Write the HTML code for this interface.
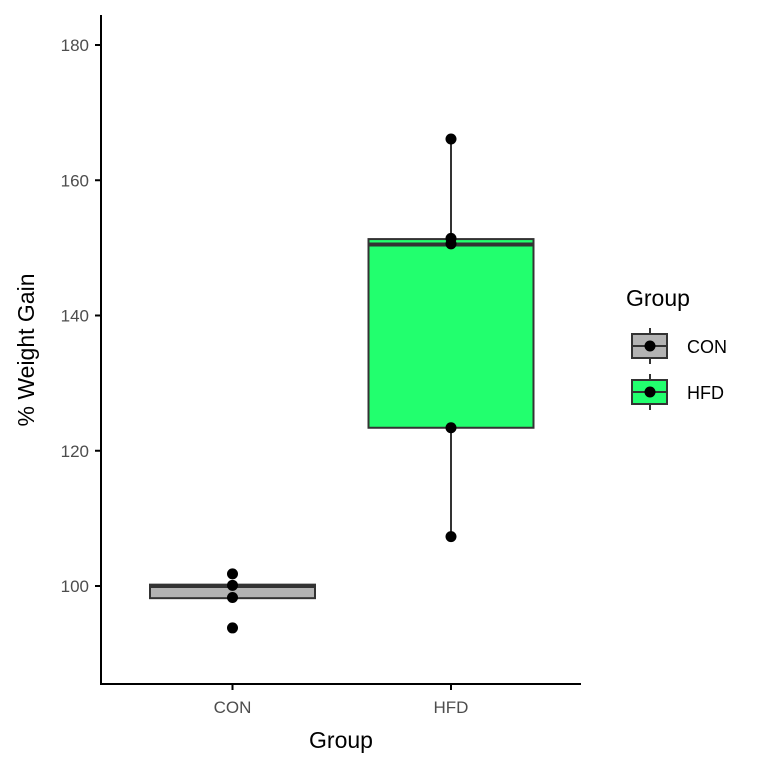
<!DOCTYPE html>
<html><head><meta charset="utf-8"><style>
body{margin:0;background:#fff;}
svg{font-family:"Liberation Sans",Arial,sans-serif;}
</style></head><body>
<svg width="768" height="768" viewBox="0 0 768 768">
<g id="plot"></g>
</svg>
<script>
const groups = ["CON","HFD"];
const fills = ["#B3B3B3","#22FF6E"];
const q1 = [98.2, 123.4];
const med = [100.0, 150.5];
const q3 = [100.2, 151.3];
const whiskLo = [98.2, 107.3];
const whiskHi = [100.2, 166.1];
const points = [[101.8, 100.1, 98.3, 93.8],[166.1, 151.4, 150.6, 123.4, 107.3]];
const yTicks = [100,120,140,160,180];

const NS="http://www.w3.org/2000/svg";
const g=document.getElementById('plot');
function y(v){return 586-(v-100)*6.7625;}
function x(i){return 232.5+i*218.5;}
function mk(t,a,p){const e=document.createElementNS(NS,t);for(const k in a)e.setAttribute(k,a[k]);(p||g).appendChild(e);return e;}

// axes
let ax=mk('line',{x1:101,y1:15,x2:101,y2:684.5,stroke:'#000','stroke-width':2});


ax=mk('line',{x1:100,y1:684,x2:581,y2:684,stroke:'#000','stroke-width':2});



yTicks.forEach(v=>{
  const t=mk('line',{x1:95,x2:101,y1:y(v),y2:y(v),stroke:'#000','stroke-width':2});
  
  
  const l=mk('text',{x:89,y:y(v)+6,'text-anchor':'end','font-size':17,fill:'#4D4D4D'});
  l.textContent=v;
  
  
});

groups.forEach((gr,i)=>{
  const cx=x(i), hw=82.5;
  const t=mk('line',{x1:cx,x2:cx,y1:684,y2:690,stroke:'#000','stroke-width':2});
  
  
  const l=mk('text',{x:cx,y:713,'text-anchor':'middle','font-size':17,fill:'#4D4D4D'});
  l.textContent=gr;
  
  
  const w=mk('line',{x1:cx,x2:cx,y1:y(whiskHi[i]),y2:y(whiskLo[i]),stroke:'#333','stroke-width':2});
  
  
  const b=mk('rect',{x:cx-hw,y:y(q3[i]),width:hw*2,height:y(q1[i])-y(q3[i]),fill:fills[i],stroke:'#333','stroke-width':2});
  
  
  const m=mk('line',{x1:cx-hw,x2:cx+hw,y1:y(med[i]),y2:y(med[i]),stroke:'#333','stroke-width':4});
  
  
  points[i].forEach(v=>{
    const c=mk('circle',{cx:cx,cy:y(v),r:5.5,fill:'#000'});
    
    
  });
});

let tt=mk('text',{x:341,y:748,'text-anchor':'middle','font-size':23,fill:'#000'});
tt.textContent='Group';


tt=mk('text',{x:0,y:0,'text-anchor':'middle','font-size':23,fill:'#000',transform:'translate(34,350) rotate(-90)'});
tt.textContent='% Weight Gain';



// legend
tt=mk('text',{x:626,y:306,'font-size':23,fill:'#000'});
tt.textContent='Group';


groups.forEach((gr,i)=>{
  const cy=346+i*46;
  const lg=mk('g',{});
  
  
  mk('line',{x1:650,x2:650,y1:cy-18,y2:cy+18,stroke:'#333','stroke-width':2},lg);
  mk('rect',{x:632,y:cy-12,width:35,height:24,fill:fills[i],stroke:'#333','stroke-width':2},lg);
  mk('line',{x1:632,x2:667,y1:cy,y2:cy,stroke:'#333','stroke-width':2},lg);
  mk('circle',{cx:650,cy:cy,r:5.5,fill:'#000'},lg);
  const l=mk('text',{x:687,y:cy+7,'font-size':18,fill:'#000'},lg);
  l.textContent=gr;
});
</script>
</body></html>
